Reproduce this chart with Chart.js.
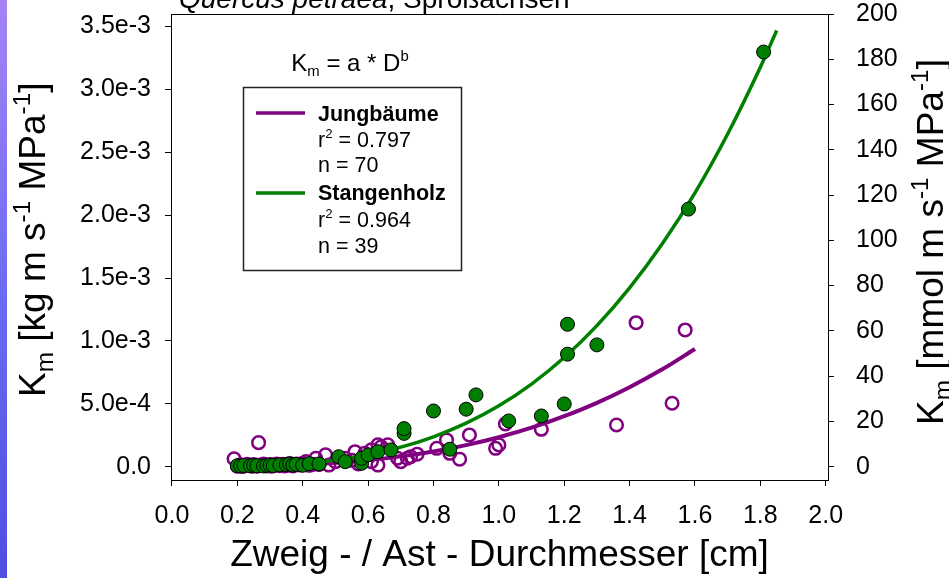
<!DOCTYPE html>
<html>
<head>
<meta charset="utf-8">
<script src="https://cdn.jsdelivr.net/npm/chart.js@4/dist/chart.umd.min.js"></script>
<style>
  html, body { margin: 0; padding: 0; background: #fff; overflow: hidden; }
  canvas { display: block; }
</style>
</head>
<body>
<canvas id="c" width="949" height="578" style="width:949px;height:578px"></canvas>
<script>
// Zweig-/Astdurchmesser D [cm] und Leitfähigkeit K_m [mmol m s^-1 MPa^-1]
const jungD = [0.19, 0.20, 0.205, 0.21, 0.215, 0.22, 0.23, 0.235, 0.24, 0.245,
               0.25, 0.255, 0.26, 0.265, 0.27, 0.28, 0.285, 0.29, 0.30, 0.305,
               0.31, 0.32, 0.325, 0.33, 0.34, 0.345, 0.35, 0.36, 0.365, 0.37,
               0.38, 0.39, 0.40, 0.41, 0.42, 0.43, 0.44, 0.45, 0.47, 0.48,
               0.50, 0.53, 0.55, 0.56, 0.57, 0.59, 0.61, 0.61, 0.63, 0.63,
               0.64, 0.66, 0.69, 0.70, 0.72, 0.73, 0.75, 0.81, 0.84, 0.85,
               0.88, 0.91, 0.99, 1.00, 1.02, 1.13, 1.36, 1.42, 1.53, 1.57];
const jungK = [3.5, 0.2, 0.5, 0.8, 0.1, 0.3, 1.0, 0.6, 0.4, 0.2,
               0.9, 0.5, 0.2, 10.6, 0.7, 1.1, 0.6, 0.3, 0.9, 0.2,
               0.5, 1.2, 0.7, 0.4, 1.0, 0.3, 0.6, 1.4, 0.8, 0.3,
               1.1, 0.8, 1.5, 2.2, 0.6, 1.0, 3.7, 1.0, 5.2, 0.7,
               2.2, 3.7, 2.8, 6.6, 1.2, 5.9, 2.2, 7.4, 0.7, 9.6,
               8.8, 9.6, 3.7, 2.2, 3.7, 4.4, 5.5, 8.1, 11.8, 5.9,
               3.3, 14.0, 8.1, 9.6, 18.9, 16.5, 18.4, 63.6, 28.0, 60.4];

const stangeD = [0.20, 0.21, 0.22, 0.24, 0.25, 0.26, 0.28, 0.29, 0.30, 0.31,
                 0.33, 0.35, 0.36, 0.37, 0.38, 0.40, 0.42, 0.45, 0.51, 0.53,
                 0.58, 0.58, 0.60, 0.63, 0.67, 0.71, 0.71, 0.80, 0.85, 0.90,
                 0.93, 1.03, 1.13, 1.20, 1.21, 1.21, 1.30, 1.58, 1.81];
const stangeK = [0.4, 0.3, 0.5, 0.4, 0.6, 0.4, 0.3, 0.6, 0.7, 0.5,
                 0.8, 0.9, 1.2, 0.7, 1.0, 0.6, 1.3, 1.2, 4.4, 2.2,
                 1.5, 3.7, 5.2, 6.6, 7.4, 14.7, 16.8, 24.6, 7.7, 25.4,
                 31.7, 20.2, 22.4, 27.7, 49.7, 62.9, 53.8, 113.8, 183.2];

// Anpassungskurven K_m = a * D^b
const jungFitD = [0.19, 0.3, 0.4, 0.5, 0.6, 0.7, 0.8, 0.9, 1.0, 1.1, 1.2, 1.3, 1.4, 1.5, 1.6];
const jungFitK = [0.1, 0.37, 0.87, 1.68, 2.88, 4.54, 6.73, 9.52, 13.0, 17.2, 22.3, 28.2, 35.1, 43.0, 52.0];
const stangeFitD = [0.22, 0.3, 0.4, 0.5, 0.6, 0.7, 0.8, 0.9, 1.0, 1.1, 1.2, 1.3, 1.4, 1.5, 1.6, 1.7, 1.8, 1.85];
const stangeFitK = [0.21, 0.57, 1.43, 2.93, 5.24, 8.6, 13.2, 19.2, 26.9, 36.5, 48.2, 62.3, 79.0, 98.5, 121.0, 147.0, 176.5, 192.7];

// Achsenteilungen
const xTicks = [0.0, 0.2, 0.4, 0.6, 0.8, 1.0, 1.2, 1.4, 1.6, 1.8, 2.0];
const kgTicks = [0, 0.0005, 0.001, 0.0015, 0.002, 0.0025, 0.003, 0.0035];
const mmolTicks = [0, 20, 40, 60, 80, 100, 120, 140, 160, 180, 200];

const KG_PER_MMOL = 18e-6;   // 1 mmol H2O = 18 mg
const MMOL_MIN = -5.9, MMOL_MAX = 200;
const FONT = '"Liberation Sans", Arial, sans-serif';

const pts = (xs, ys) => xs.map((x, i) => ({ x: x, y: ys[i] }));

function partFont(p, size, scriptScale) {
  const fs = (p.sub || p.sup) ? size * scriptScale : size;
  return (p.italic ? 'italic ' : '') + (p.bold ? 'bold ' : '') + fs + 'px ' + FONT;
}
function richWidth(ctx, parts, size, scriptScale) {
  let w = 0;
  for (const p of parts) { ctx.font = partFont(p, size, scriptScale); w += ctx.measureText(p.t).width; }
  return w;
}
function drawRich(ctx, parts, x, y, size, align, scriptScale) {
  const sc = scriptScale || 0.62;
  let cx = x;
  if (align === 'center') cx = x - richWidth(ctx, parts, size, sc) / 2;
  ctx.textBaseline = 'alphabetic';
  ctx.textAlign = 'left';
  for (const p of parts) {
    ctx.font = partFont(p, size, sc);
    const dy = p.sub ? size * 0.22 : (p.sup ? -size * 0.40 : 0);
    ctx.fillText(p.t, cx, y + dy);
    cx += ctx.measureText(p.t).width;
  }
}

const decor = {
  id: 'decor',
  beforeDraw(chart) {
    const ctx = chart.ctx;
    ctx.save();
    ctx.fillStyle = '#fff';
    ctx.fillRect(0, 0, chart.width, chart.height);
    const g = ctx.createLinearGradient(0, 0, 0, chart.height);
    g.addColorStop(0, '#a583f6');
    g.addColorStop(0.5, '#6c6cf2');
    g.addColorStop(1, '#4e4ee2');
    ctx.fillStyle = g;
    ctx.fillRect(0, 0, 7, chart.height);
    ctx.restore();
  },
  afterDraw(chart) {
    const ctx = chart.ctx;
    const a = chart.chartArea;
    ctx.save();
    ctx.fillStyle = '#000';

    // obere Rahmenlinie
    ctx.strokeStyle = '#000';
    ctx.lineWidth = 1;
    ctx.beginPath();
    ctx.moveTo(a.left, a.top + 0.5);
    ctx.lineTo(a.right, a.top + 0.5);
    ctx.stroke();

    // Titel
    drawRich(ctx, [{ t: 'Quercus petraea', italic: true }, { t: ', Sproßachsen' }], 179, 7.5, 28, 'left');

    // Modellgleichung
    drawRich(ctx, [{ t: 'K' }, { t: 'm', sub: true }, { t: ' = a * D' }, { t: 'b', sup: true }],
             350, 71, 24, 'center');

    // Legende
    ctx.strokeStyle = '#222';
    ctx.lineWidth = 1.5;
    ctx.strokeRect(243.5, 87.5, 218, 183);
    ctx.lineWidth = 3.5;
    ctx.strokeStyle = '#800080';
    ctx.beginPath(); ctx.moveTo(256, 113); ctx.lineTo(305, 113); ctx.stroke();
    ctx.strokeStyle = '#008000';
    ctx.beginPath(); ctx.moveTo(256, 193); ctx.lineTo(305, 193); ctx.stroke();
    const lx = 318, ls = 21.5;
    drawRich(ctx, [{ t: 'Jungbäume', bold: true }], lx, 121, ls, 'left');
    drawRich(ctx, [{ t: 'r' }, { t: '2', sup: true }, { t: ' = 0.797' }], lx, 147, ls, 'left');
    drawRich(ctx, [{ t: 'n = 70' }], lx, 172, ls, 'left');
    drawRich(ctx, [{ t: 'Stangenholz', bold: true }], lx, 200, ls, 'left');
    drawRich(ctx, [{ t: 'r' }, { t: '2', sup: true }, { t: ' = 0.964' }], lx, 227, ls, 'left');
    drawRich(ctx, [{ t: 'n = 39' }], lx, 253, ls, 'left');

    // Achsentitel
    drawRich(ctx, [{ t: 'Zweig - / Ast - Durchmesser [cm]' }], (a.left + a.right) / 2, 566, 37, 'center');

    ctx.save();
    ctx.translate(45, 397);
    ctx.rotate(-Math.PI / 2);
    drawRich(ctx, [{ t: 'K' }, { t: 'm', sub: true }, { t: ' [kg m s' }, { t: '-1', sup: true },
                   { t: ' MPa' }, { t: '-1', sup: true }, { t: ']' }], 0, 0, 37, 'left', 0.66);
    ctx.restore();

    ctx.save();
    ctx.translate(943, 425);
    ctx.rotate(-Math.PI / 2);
    drawRich(ctx, [{ t: 'K' }, { t: 'm', sub: true }, { t: ' [mmol m s' }, { t: '-1', sup: true },
                   { t: ' MPa' }, { t: '-1', sup: true }, { t: ']' }], 0, 0, 37, 'left', 0.66);
    ctx.restore();

    ctx.restore();
  }
};

const tickFont = { family: FONT, size: 25 };
const axisGrid = { drawOnChartArea: false, drawTicks: true, tickLength: 6, color: '#000', tickWidth: 1 };
const axisBorder = { display: true, color: '#000', width: 1 };
// Achsen ohne zusätzlichen Randabstand für überstehende Beschriftungen
const noPad = s => { s.paddingTop = 0; s.paddingBottom = 0; s.paddingLeft = 0; s.paddingRight = 0; };

new Chart(document.getElementById('c'), {
  type: 'scatter',
  data: {
    datasets: [
      {
        label: 'Stangenholz',
        data: pts(stangeD, stangeK),
        yAxisID: 'yR',
        order: 1,
        pointRadius: 7,
        pointHoverRadius: 7,
        backgroundColor: '#008000',
        borderColor: '#000',
        borderWidth: 1
      },
      {
        label: 'Stangenholz Anpassung',
        data: pts(stangeFitD, stangeFitK),
        yAxisID: 'yR',
        order: 2,
        showLine: true,
        pointRadius: 0,
        borderColor: '#008000',
        borderWidth: 3.5,
        cubicInterpolationMode: 'monotone'
      },
      {
        label: 'Jungbäume Anpassung',
        data: pts(jungFitD, jungFitK),
        yAxisID: 'yR',
        order: 3,
        showLine: true,
        pointRadius: 0,
        borderColor: '#800080',
        borderWidth: 4,
        cubicInterpolationMode: 'monotone'
      },
      {
        label: 'Jungbäume',
        data: pts(jungD, jungK),
        yAxisID: 'yR',
        order: 4,
        pointRadius: 6.3,
        pointHoverRadius: 6.3,
        backgroundColor: 'rgba(0,0,0,0)',
        borderColor: '#800080',
        borderWidth: 2.5
      }
    ]
  },
  options: {
    responsive: false,
    devicePixelRatio: 1,
    animation: false,
    events: [],
    layout: { padding: { top: 14, left: 0, right: 0, bottom: 0 } },
    plugins: { legend: { display: false }, tooltip: { enabled: false } },
    scales: {
      x: {
        type: 'linear',
        position: 'bottom',
        min: -0.003,
        max: 2.007,
        afterBuildTicks: s => { s.ticks = xTicks.map(v => ({ value: v })); },
        afterFit: s => { s.height = 98; noPad(s); },
        ticks: { font: tickFont, color: '#000', padding: 15, maxRotation: 0, autoSkip: false,
                 callback: v => v.toFixed(1) },
        grid: axisGrid,
        border: axisBorder
      },
      yL: {
        type: 'linear',
        position: 'left',
        min: MMOL_MIN * KG_PER_MMOL,
        max: MMOL_MAX * KG_PER_MMOL,
        afterBuildTicks: s => { s.ticks = kgTicks.map(v => ({ value: v })); },
        afterFit: s => { s.width = 171; noPad(s); },
        ticks: { font: tickFont, color: '#000', padding: 14,
                 callback: v => (v === 0 ? '0.0' : v.toExponential(1)) },
        grid: axisGrid,
        border: axisBorder
      },
      yR: {
        type: 'linear',
        position: 'right',
        min: MMOL_MIN,
        max: MMOL_MAX,
        afterBuildTicks: s => { s.ticks = mmolTicks.map(v => ({ value: v })); },
        afterFit: s => { s.width = 121; noPad(s); },
        ticks: { font: tickFont, color: '#000', padding: 22, callback: v => String(v) },
        grid: axisGrid,
        border: axisBorder
      }
    }
  },
  plugins: [decor]
});
</script>
</body>
</html>
